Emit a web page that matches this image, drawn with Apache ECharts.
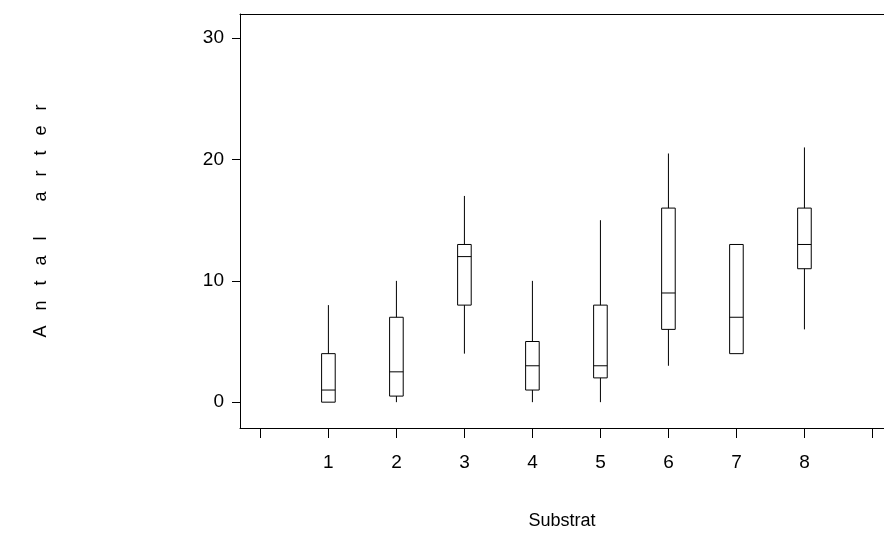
<!DOCTYPE html>
<html><head><meta charset="utf-8">
<script src="https://cdn.jsdelivr.net/npm/echarts@6/dist/echarts.min.js"></script>
<style>html,body{margin:0;padding:0;background:#fff}#main{width:884px;height:535px}</style>
</head><body><div id="main"></div>
<script>
var substrat = [1, 2, 3, 4, 5, 6, 7, 8];
var lowW  = [0, 0,   4,  0,  0, 3,    4,  6];
var q1    = [0, 0.5, 8,  1,  2, 6,    4,  11];
var median= [1, 2.5, 12, 3,  3, 9,    7,  13];
var q3    = [4, 7,   13, 5,  8, 16,   13, 16];
var highW = [8, 10,  17, 10, 15, 20.5, 13, 21];
var xTicks = [0, 1, 2, 3, 4, 5, 6, 7, 8, 9];
var yTicks = [0, 10, 20, 30];

var data = substrat.map(function (s, i) {
    return [s, lowW[i], q1[i], median[i], q3[i], highW[i]];
});

var myChart = echarts.init(document.getElementById('main'));
var st = { stroke: '#000', fill: 'none', lineWidth: 1 };
var font = 'Liberation Sans';
option = {
    animation: false,
    grid: { left: 240, top: 14, right: 0, bottom: 105 },
    xAxis: [{
        type: 'value', min: -0.3, max: 9.17, interval: 1,
        axisLine: { onZero: false, lineStyle: { color: '#000' } },
        axisTick: { length: 10, lineStyle: { color: '#000' }, customValues: xTicks },
        axisLabel: { color: '#000', fontSize: 19, margin: 25, fontFamily: font,
            customValues: substrat },
        splitLine: { show: false },
        name: 'Substrat', nameLocation: 'middle', nameGap: 84,
        nameTextStyle: { color: '#000', fontSize: 18, fontFamily: font }
    }, {
        type: 'value', position: 'top', min: -0.3, max: 9.17,
        axisLine: { show: true, onZero: false, lineStyle: { color: '#000' } },
        axisTick: { show: false }, axisLabel: { show: false }, splitLine: { show: false }
    }],
    yAxis: {
        type: 'value', min: -2.13, max: 32,
        axisLine: { show: true, onZero: false, lineStyle: { color: '#000' } },
        axisTick: { show: true, length: 8, lineStyle: { color: '#000' }, customValues: yTicks },
        axisLabel: { color: '#000', fontSize: 19, margin: 16, fontFamily: font,
            customValues: yTicks },
        splitLine: { show: false },
        name: 'A   n   t   a   l       a   r   t   e   r', nameLocation: 'middle', nameGap: 190,
        nameTextStyle: { color: '#000', fontSize: 18, fontFamily: font }
    },
    series: [{
        type: 'custom',
        data: data,
        renderItem: function (params, api) {
            var x = api.value(0), hw = 0.1;
            var pLow = api.coord([x, api.value(1)]);
            var pQ1 = api.coord([x, api.value(2)]);
            var pMed = api.coord([x, api.value(3)]);
            var pQ3 = api.coord([x, api.value(4)]);
            var pHigh = api.coord([x, api.value(5)]);
            var l = api.coord([x - hw, 0])[0], r = api.coord([x + hw, 0])[0];
            return { type: 'group', children: [
                { type: 'line', shape: { x1: pLow[0], y1: pLow[1], x2: pQ1[0], y2: pQ1[1] }, style: st },
                { type: 'line', shape: { x1: pQ3[0], y1: pQ3[1], x2: pHigh[0], y2: pHigh[1] }, style: st },
                { type: 'rect', shape: { x: l, y: pQ3[1], width: r - l, height: pQ1[1] - pQ3[1] }, style: st },
                { type: 'line', shape: { x1: l, y1: pMed[1], x2: r, y2: pMed[1] }, style: st }
            ] };
        }
    }]
};
myChart.setOption(option);
</script></body></html>
